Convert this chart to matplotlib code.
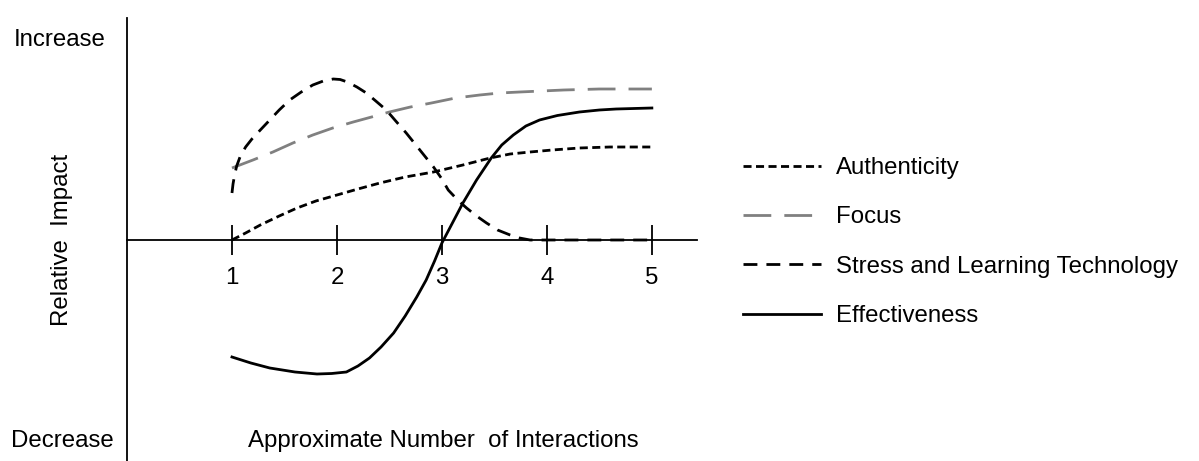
import matplotlib
matplotlib.use("Agg")
from matplotlib import pyplot as plt

plt.rcParams["font.family"] = ["Liberation Sans", "DejaVu Sans"]
plt.rcParams["lines.scale_dashes"] = False

# values (x = interactions, y = relative impact)
auth_x = [1.0, 1.13, 1.27, 1.45, 1.62, 1.8, 2.0, 2.2, 2.41, 2.65, 2.92, 3.2,
          3.46, 3.65, 3.84, 4.05, 4.31, 4.6, 5.0]
auth_y = [0.0, 0.07, 0.15, 0.24, 0.32, 0.39, 0.45, 0.51, 0.57, 0.63, 0.68,
          0.75, 0.82, 0.86, 0.88, 0.90, 0.92, 0.93, 0.93]

focus_x = [1.0, 1.2, 1.39, 1.58, 1.77, 1.96, 2.155, 2.33, 2.5, 2.7, 2.9,
           3.13, 3.36, 3.55, 3.74, 3.95, 4.16, 4.5, 5.0]
focus_y = [0.72, 0.80, 0.88, 0.97, 1.05, 1.12, 1.18, 1.23, 1.28, 1.33, 1.37,
           1.42, 1.45, 1.47, 1.48, 1.49, 1.50, 1.51, 1.51]

stress_x = [1.0, 1.01, 1.025, 1.045, 1.08, 1.13, 1.19, 1.27, 1.36, 1.45, 1.55,
            1.66, 1.77, 1.87, 1.965, 2.03, 2.1, 2.19, 2.28, 2.37, 2.47, 2.56,
            2.66, 2.79, 2.92, 3.0, 3.06, 3.15, 3.235, 3.33, 3.425, 3.53, 3.65,
            3.74, 3.84, 4.0, 5.0]
stress_y = [0.47, 0.56, 0.65, 0.74, 0.84, 0.93, 1.01, 1.10, 1.20, 1.30, 1.40,
            1.48, 1.55, 1.59, 1.61, 1.605, 1.58, 1.53, 1.47, 1.39, 1.30, 1.19,
            1.07, 0.90, 0.73, 0.61, 0.50, 0.40, 0.32, 0.24, 0.17, 0.10, 0.05,
            0.02, 0.0, 0.0, 0.0]

eff_x = [1.0, 1.18, 1.36, 1.6, 1.81, 1.95, 2.09, 2.2, 2.31, 2.42, 2.54, 2.65,
         2.76, 2.85, 2.93, 3.0, 3.1, 3.2, 3.33, 3.47, 3.57, 3.68, 3.8, 3.93,
         4.1, 4.31, 4.5, 4.66, 5.0]
eff_y = [-1.17, -1.23, -1.28, -1.32, -1.34, -1.335, -1.32, -1.26, -1.18,
         -1.07, -0.93, -0.76, -0.57, -0.40, -0.21, -0.03, 0.17, 0.37, 0.60,
         0.82, 0.95, 1.05, 1.14, 1.20, 1.245, 1.28, 1.30, 1.31, 1.32]

ticks = [1, 2, 3, 4, 5]
labels = ["Authenticity", "Focus", "Stress and Learning Technology",
          "Effectiveness"]

fs = 17.3

fig = plt.figure(figsize=(11.99, 4.61), dpi=100)
ax = fig.add_axes([127 / 1199, 0.0, 570 / 1199, 443 / 461])

lw = 2.0
ax.plot(auth_x, auth_y, color="black", lw=lw, dashes=(5.8, 3.2),
        label=labels[0])
ax.plot(focus_x, focus_y, color="#808080", lw=lw, dashes=(20, 9.4),
        label=labels[1])
ax.plot(stress_x, stress_y, color="black", lw=lw, dashes=(10, 6.5),
        label=labels[2])
ax.plot(eff_x, eff_y, color="black", lw=lw, label=labels[3])

ax.set_xlim(0, 5.43)
ax.set_ylim(-2.21, 2.22)

# axes: vertical line at left, horizontal through zero
ax.spines["top"].set_visible(False)
ax.spines["right"].set_visible(False)
ax.spines["bottom"].set_position(("data", 0))
ax.spines["bottom"].set_linewidth(1.3)
ax.spines["left"].set_linewidth(1.3)
ax.set_xticks(ticks)
ax.set_xticklabels([str(t) for t in ticks])
ax.set_yticks([])
ax.tick_params(axis="x", direction="inout", length=21.6, width=1.3,
               pad=9, labelsize=fs)

fig.text(60 / 1199, 1 - 40 / 461, "Increase", ha="center", va="center",
         fontsize=fs)
fig.text(62 / 1199, 1 - 441 / 461, "Decrease", ha="center", va="center",
         fontsize=fs)
fig.text(62 / 1199, 1 - 240 / 461, "Relative  Impact", ha="center",
         va="center", rotation=90, fontsize=fs)
fig.text(443 / 1199, 1 - 441 / 461, "Approximate Number  of Interactions",
         ha="center", va="center", fontsize=fs)

fig.legend(loc="center left", bbox_to_anchor=(743 / 1199, 1 - 242 / 461),
           frameon=False, fontsize=fs, handlelength=3.25, handletextpad=0.6,
           labelspacing=1.14, borderpad=0, borderaxespad=0)

fig.savefig("out.png", dpi=100)
